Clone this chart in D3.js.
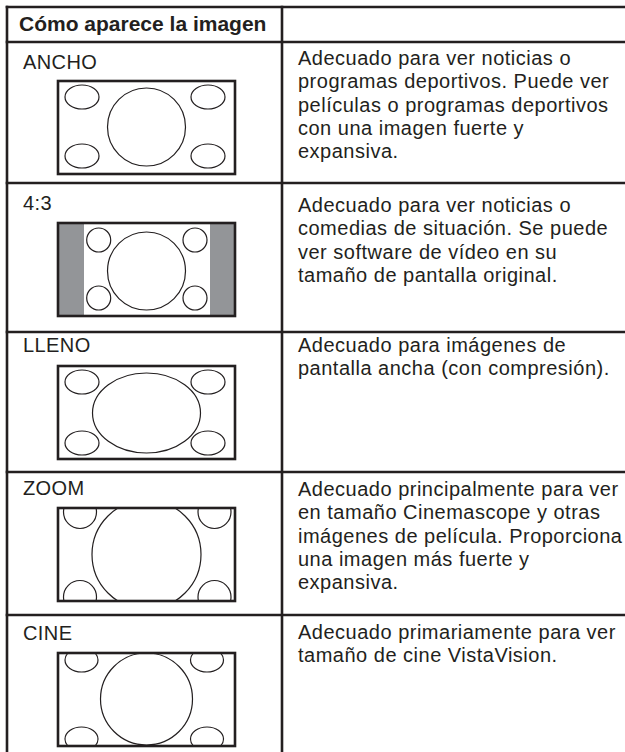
<!DOCTYPE html>
<html>
<head>
<meta charset="utf-8">
<script src="https://cdn.jsdelivr.net/npm/d3@7/dist/d3.min.js"></script>
<style>
  html, body { margin: 0; padding: 0; background: #fff; }
  svg { display: block; }
</style>
</head>
<body>
<svg id="chart" width="625" height="752"></svg>
<script>
// ---------- DATA ----------
const headerTitle = "Cómo aparece la imagen";
const modes = ["ANCHO", "4:3", "LLENO", "ZOOM", "CINE"];
const descAncho = ["Adecuado para ver noticias o", "programas deportivos. Puede ver", "películas o programas deportivos", "con una imagen fuerte y", "expansiva."];
const desc43 = ["Adecuado para ver noticias o", "comedias de situación. Se puede", "ver software de vídeo en su", "tamaño de pantalla original."];
const descLleno = ["Adecuado para imágenes de", "pantalla ancha (con compresión)."];
const descZoom = ["Adecuado principalmente para ver", "en tamaño Cinemascope y otras", "imágenes de película. Proporciona", "una imagen más fuerte y", "expansiva."];
const descCine = ["Adecuado primariamente para ver", "tamaño de cine VistaVision."];
const descriptions = [descAncho, desc43, descLleno, descZoom, descCine];

// ---------- LAYOUT (positions / sizes / styles) ----------
const ink = "#231f20";
const tableLeft = 7, tableTop = 7, headerBottom = 42, colDivider = 282;
const rowHeights = [141, 149, 140, 143, 150];
const labelBase = [27, 27, 20, 23, 25];
const descBase = [23, 29, 20, 24, 24];
const boxTop = [39, 40, 34, 36, 38];
const lineGap = 23.3;
const BW = 177, BH = 93, boxLeft = 58;

// illustration geometry in box-local units (0..BW, 0..BH)
const illus = [
  { bars: [], shapes: [
    {cx: 88.5, cy: 46, rx: 39, ry: 39},
    {cx: 24, cy: 16, rx: 17, ry: 12}, {cx: 150, cy: 16, rx: 17, ry: 12},
    {cx: 24, cy: 75, rx: 17, ry: 12}, {cx: 150, cy: 75, rx: 17, ry: 12}] },
  { bars: [[0, 26], [152, 177]], shapes: [
    {cx: 88.5, cy: 48, rx: 39, ry: 39},
    {cx: 40.7, cy: 17, rx: 12, ry: 12}, {cx: 137, cy: 17, rx: 12, ry: 12},
    {cx: 40.7, cy: 75, rx: 12, ry: 12}, {cx: 137, cy: 75, rx: 12, ry: 12}] },
  { bars: [], shapes: [
    {cx: 88.5, cy: 47, rx: 54, ry: 40},
    {cx: 24, cy: 16, rx: 17, ry: 12}, {cx: 150, cy: 16, rx: 17, ry: 12},
    {cx: 24, cy: 77, rx: 17, ry: 12}, {cx: 150, cy: 77, rx: 17, ry: 12}] },
  { bars: [], shapes: [
    {cx: 88.5, cy: 46.5, rx: 54.5, ry: 54.5},
    {cx: 22, cy: 4, rx: 16.5, ry: 16.5}, {cx: 156.5, cy: 4, rx: 16.5, ry: 16.5},
    {cx: 22, cy: 89, rx: 16.5, ry: 16.5}, {cx: 156.5, cy: 89, rx: 16.5, ry: 16.5}] },
  { bars: [], shapes: [
    {cx: 88.5, cy: 46, rx: 46, ry: 46},
    {cx: 23.5, cy: 7, rx: 16.5, ry: 12}, {cx: 149, cy: 7, rx: 16.5, ry: 12},
    {cx: 23.5, cy: 86, rx: 16.5, ry: 12}, {cx: 149, cy: 86, rx: 16.5, ry: 12}] }
];

// ---------- DRAW ----------
const svg = d3.select("#chart");
const rowTops = [headerBottom, ...d3.cumsum(rowHeights).map(v => v + headerBottom)];

// header text
svg.append("text")
  .attr("x", 19).attr("y", 31)
  .attr("font-family", "'Liberation Sans', Arial, sans-serif")
  .attr("font-size", 21).attr("font-weight", "bold")
  .attr("fill", ink)
  .text(headerTitle);

const rows = svg.selectAll("g.row").data(modes).join("g").attr("class", "row");

rows.each(function(mode, i) {
  const g = d3.select(this);
  const top = rowTops[i];
  // label
  g.append("text")
    .attr("x", 23).attr("y", top + labelBase[i])
    .attr("font-family", "'Liberation Sans', Arial, sans-serif")
    .attr("font-size", 20).attr("letter-spacing", 0.4)
    .attr("fill", ink)
    .text(mode);
  // description lines
  g.selectAll("text.desc").data(descriptions[i]).join("text")
    .attr("class", "desc")
    .attr("x", 298)
    .attr("y", (d, k) => top + descBase[i] + k * lineGap)
    .attr("font-family", "'Liberation Sans', Arial, sans-serif")
    .attr("font-size", 20).attr("letter-spacing", 0.5)
    .attr("fill", ink)
    .text(d => d);

  // illustration with scales mapping box-local units
  const y0 = top + boxTop[i];
  const xs = d3.scaleLinear().domain([0, BW]).range([boxLeft, boxLeft + BW]);
  const ys = d3.scaleLinear().domain([0, BH]).range([y0, y0 + BH]);
  const clipId = "clip" + i;
  g.append("clipPath").attr("id", clipId)
    .append("rect").attr("x", xs(0)).attr("y", ys(0))
    .attr("width", xs(BW) - xs(0)).attr("height", ys(BH) - ys(0));
  g.append("rect").attr("x", xs(0)).attr("y", ys(0))
    .attr("width", xs(BW) - xs(0)).attr("height", ys(BH) - ys(0))
    .attr("fill", "#fff");
  const inner = g.append("g").attr("clip-path", `url(#${clipId})`);
  inner.selectAll("rect.bar").data(illus[i].bars).join("rect")
    .attr("class", "bar")
    .attr("x", d => xs(d[0])).attr("y", ys(0))
    .attr("width", d => xs(d[1]) - xs(d[0])).attr("height", ys(BH) - ys(0))
    .attr("fill", "#939598");
  inner.selectAll("ellipse").data(illus[i].shapes).join("ellipse")
    .attr("cx", d => xs(d.cx)).attr("cy", d => ys(d.cy))
    .attr("rx", d => xs(d.rx) - xs(0)).attr("ry", d => ys(d.ry) - ys(0))
    .attr("fill", "none").attr("stroke", ink).attr("stroke-width", 1.2);
  g.append("rect").attr("x", xs(0)).attr("y", ys(0))
    .attr("width", xs(BW) - xs(0)).attr("height", ys(BH) - ys(0))
    .attr("fill", "none").attr("stroke", ink).attr("stroke-width", 2.6);
});

// table grid lines
const grid = svg.append("g").attr("stroke", ink).attr("stroke-width", 2.6);
grid.selectAll("line.h").data([tableTop, ...rowTops.slice(0, modes.length)]).join("line")
  .attr("class", "h")
  .attr("x1", tableLeft - 1.3).attr("x2", 640)
  .attr("y1", d => d).attr("y2", d => d);
grid.selectAll("line.v").data([tableLeft, colDivider]).join("line")
  .attr("class", "v")
  .attr("x1", d => d).attr("x2", d => d)
  .attr("y1", tableTop - 1.3).attr("y2", 760);
</script>
</body>
</html>
